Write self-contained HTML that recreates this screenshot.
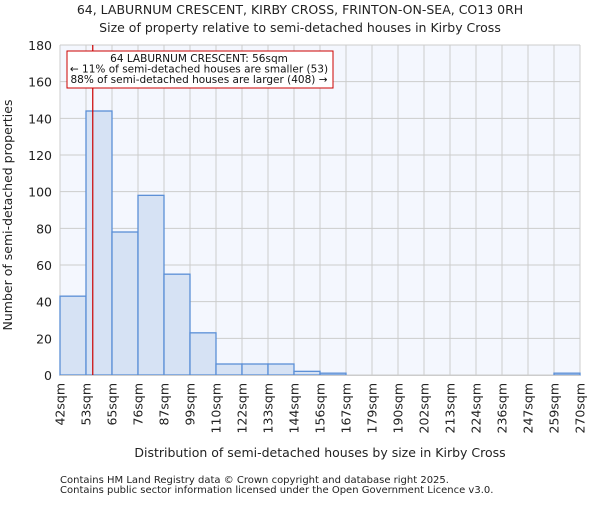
<!DOCTYPE html>
<html><head><meta charset="utf-8"><style>
body{margin:0;background:#fff;}
svg text{font-family:"DejaVu Sans","Liberation Sans",sans-serif;fill:#222;}
</style></head><body>
<svg width="600" height="500" id="chart">
<text x="300" y="14" text-anchor="middle" font-size="12.5">64, LABURNUM CRESCENT, KIRBY CROSS, FRINTON-ON-SEA, CO13 0RH</text>
<text x="300" y="32" text-anchor="middle" font-size="12.5">Size of property relative to semi-detached houses in Kirby Cross</text>
<rect x="60" y="45" width="520" height="330" fill="#f4f7fe"/>
<g id="grid"></g><g id="bars"></g><g id="ticks"></g>
<line x1="60" y1="375.5" x2="580" y2="375.5" stroke="#ccc"/>
<text transform="translate(12,215) rotate(-90)" text-anchor="middle" font-size="12.5">Number of semi-detached properties</text>
<text x="320" y="457" text-anchor="middle" font-size="12.5">Distribution of semi-detached houses by size in Kirby Cross</text>
<text x="60" y="483" font-size="10">Contains HM Land Registry data © Crown copyright and database right 2025.</text>
<text x="60" y="493" font-size="10">Contains public sector information licensed under the Open Government Licence v3.0.</text>
</svg>
<script>
const xLabels=["42sqm","53sqm","65sqm","76sqm","87sqm","99sqm","110sqm","122sqm","133sqm","144sqm","156sqm","167sqm","179sqm","190sqm","202sqm","213sqm","224sqm","236sqm","247sqm","259sqm","270sqm"];
const counts=[43,144,78,98,55,23,6,6,6,2,1,0,0,0,0,0,0,0,0,1];
const yTicks=[0,20,40,60,80,100,120,140,160,180];
const propertyBinPos=1.26;
const annotation=["64 LABURNUM CRESCENT: 56sqm","← 11% of semi-detached houses are smaller (53)","88% of semi-detached houses are larger (408) →"];
const NS="http://www.w3.org/2000/svg";
const X0=60,X1=580,Y0=375,Y1=45,YMAX=180;
const bw=(X1-X0)/counts.length;
const xs=i=>X0+i*bw;
const ys=v=>Y0-(v/YMAX)*(Y0-Y1);
function mk(tag,attrs,parent,txt){const e=document.createElementNS(NS,tag);for(const k in attrs)e.setAttribute(k,attrs[k]);if(txt!==undefined)e.textContent=txt;document.getElementById(parent)?document.getElementById(parent).appendChild(e):parent.appendChild(e);return e;}
const svg=document.getElementById('chart');
yTicks.forEach(t=>{
  const l=mk('line',{x1:X0,x2:X1,y1:ys(t),y2:ys(t),stroke:'#ccc'},'grid');
  
  
  const tx=mk('text',{x:X0-8,y:ys(t)+5,'text-anchor':'end','font-size':12.5},'ticks',String(t));
  
  
});
xLabels.forEach((lab,i)=>{
  const l=mk('line',{x1:xs(i),x2:xs(i),y1:Y1,y2:Y0,stroke:'#ccc'},'grid');
  
  
  const tx=mk('text',{transform:`translate(${xs(i)+4.5},383) rotate(-90)`,'text-anchor':'end','font-size':12.5},'ticks',lab);
  
  
});
counts.forEach((c,i)=>{
  if(c<=0)return;
  const r=mk('rect',{x:xs(i),y:ys(c),width:bw,height:Y0-ys(c),fill:'#d6e2f4',stroke:'#5b8fd6','stroke-width':1.3},'bars');
  
  
});
const mx=xs(propertyBinPos);
const ml=mk('line',{x1:mx,x2:mx,y1:Y1,y2:Y0,stroke:'#cc0000','stroke-width':1.2},svg);


const box=mk('rect',{x:67,y:51,width:266,height:37,fill:'#fff',stroke:'#cc0000','stroke-width':1},svg);


annotation.forEach((s,i)=>{
  const t=mk('text',{x:199,y:62+i*10.5,'text-anchor':'middle','font-size':10.5,'style':'fill:#111'},svg,s);
  
  
});
</script>
</body></html>
